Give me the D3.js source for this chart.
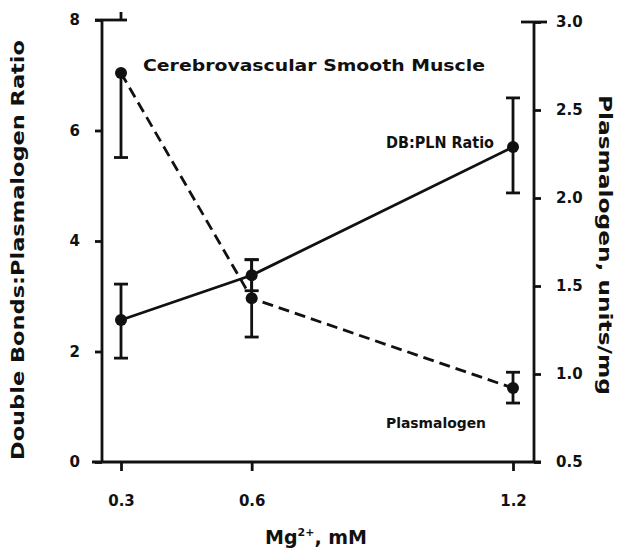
<!DOCTYPE html>
<html>
<head>
<meta charset="utf-8">
<script src="https://cdn.jsdelivr.net/npm/d3@7"></script>
<style>
  body { margin: 0; background: #fff; }
  svg text { font-family: "DejaVu Sans", sans-serif; font-weight: bold; fill: #111; }
</style>
</head>
<body>
<div id="chart"></div>
<script>
// values
const mgLevels = [0.3, 0.6, 1.2];
const xTicks = ['0.3', '0.6', '1.2'];
const leftTicks = [0, 2, 4, 6, 8];
const rightTicks = [0.5, 1.0, 1.5, 2.0, 2.5, 3.0];

// DB:PLN ratio (left axis), solid
const ratioMean = [2.57, 3.38, 5.70];
const ratioLow  = [1.88, 3.10, 4.87];
const ratioHigh = [3.22, 3.66, 6.59];

// plasmalogen units/mg (right axis), dashed
const plasMean = [2.71, 1.43, 0.92];
const plasLow  = [2.23, 1.21, 0.835];
const plasHigh = [2.71, 1.65, 1.01];

const W = 619, H = 558;
const mLeft = 102, mRight = 534, mTop = 20, mBottom = 462;

const svg = d3.select('#chart').append('svg')
  .attr('width', W).attr('height', H);

const x = d3.scaleLinear().domain([0.3, 1.2]).range([121, 513]);
const yL = d3.scaleLinear().domain([0, 8]).range([mBottom, mTop]);
const yR = d3.scaleLinear().domain([0.5, 3.0]).range([mBottom, 22]);

const ink = '#111';

// axes frame
const frame = svg.append('g').attr('stroke', ink).attr('stroke-width', 2.8).attr('fill', 'none');
frame.append('line').attr('x1', 92).attr('x2', 541).attr('y1', mBottom).attr('y2', mBottom);
frame.append('line').attr('x1', mLeft).attr('x2', mLeft).attr('y1', mTop).attr('y2', mBottom);
frame.append('line').attr('x1', mRight).attr('x2', mRight).attr('y1', 22).attr('y2', mBottom);
frame.append('line').attr('x1', 95).attr('x2', 127).attr('y1', mTop).attr('y2', mTop);
frame.append('line').attr('x1', x(0.3)).attr('x2', x(0.3)).attr('y1', 12).attr('y2', mTop);
frame.append('line').attr('x1', 521).attr('x2', 547).attr('y1', 22).attr('y2', 22);

// left axis
const gL = svg.append('g').attr('transform', `translate(${mLeft},0)`)
  .call(d3.axisLeft(yL).tickValues(leftTicks).tickSize(7).tickPadding(15).tickFormat(d3.format('d')));
// right axis
const gR = svg.append('g').attr('transform', `translate(${mRight},0)`)
  .call(d3.axisRight(yR).tickValues(rightTicks).tickSize(7).tickPadding(15).tickFormat(d3.format('.1f')));
// bottom axis
const gB = svg.append('g').attr('transform', `translate(0,${mBottom})`)
  .call(d3.axisBottom(x).tickValues(mgLevels).tickSize(9).tickPadding(24).tickFormat((d, i) => xTicks[i]));

[gL, gR, gB].forEach(g => {
  g.select('.domain').remove();
  g.selectAll('.tick line').attr('stroke', ink).attr('stroke-width', 2.8);
  g.selectAll('.tick text').attr('font-size', 15).attr('fill', ink)
    .style('font-family', '"DejaVu Sans", sans-serif').style('font-weight', 'bold');
});

// series
function drawSeries(mean, low, high, yScale, dashed) {
  const pts = mgLevels.map((m, i) => ({ x: m, y: mean[i], lo: low[i], hi: high[i] }));
  const g = svg.append('g');
  g.append('path').datum(pts)
    .attr('fill', 'none').attr('stroke', ink).attr('stroke-width', 2.8)
    .attr('stroke-dasharray', dashed ? '11,6' : null)
    .attr('d', d3.line().x(d => x(d.x)).y(d => yScale(d.y)));
  const eb = g.selectAll('g.err').data(pts).enter().append('g')
    .attr('stroke', ink).attr('stroke-width', 2.8);
  eb.append('line')
    .attr('x1', d => x(d.x)).attr('x2', d => x(d.x))
    .attr('y1', d => yScale(d.lo)).attr('y2', d => yScale(d.hi));
  eb.filter(d => d.lo < d.y).append('line')
    .attr('x1', d => x(d.x) - 7).attr('x2', d => x(d.x) + 7)
    .attr('y1', d => yScale(d.lo)).attr('y2', d => yScale(d.lo));
  eb.filter(d => d.hi > d.y).append('line')
    .attr('x1', d => x(d.x) - 7).attr('x2', d => x(d.x) + 7)
    .attr('y1', d => yScale(d.hi)).attr('y2', d => yScale(d.hi));
  g.selectAll('circle').data(pts).enter().append('circle')
    .attr('cx', d => x(d.x)).attr('cy', d => yScale(d.y)).attr('r', 6)
    .attr('fill', ink);
}
drawSeries(ratioMean, ratioLow, ratioHigh, yL, false);
drawSeries(plasMean, plasLow, plasHigh, yR, true);

// annotations
function label(txt, x0, y0, len, size) {
  svg.append('text').attr('x', x0).attr('y', y0)
    .attr('font-size', size)
    .attr('textLength', len).attr('lengthAdjust', 'spacingAndGlyphs')
    .text(txt);
}
label('Cerebrovascular Smooth Muscle', 143, 71, 342, 15);
label('DB:PLN Ratio', 386, 148, 108, 15);
label('Plasmalogen', 386, 428, 100, 14);

// axis titles
svg.append('text')
  .attr('transform', 'translate(24,250) rotate(-90)')
  .attr('text-anchor', 'middle').attr('font-size', 18)
  .attr('textLength', 420).attr('lengthAdjust', 'spacingAndGlyphs')
  .text('Double Bonds:Plasmalogen Ratio');

svg.append('text')
  .attr('transform', 'translate(599,245) rotate(90)')
  .attr('text-anchor', 'middle').attr('font-size', 18)
  .attr('textLength', 300).attr('lengthAdjust', 'spacingAndGlyphs')
  .text('Plasmalogen, units/mg');

const xt = svg.append('text')
  .attr('x', 316).attr('y', 544)
  .attr('text-anchor', 'middle').attr('font-size', 19);
xt.append('tspan').text('Mg');
xt.append('tspan').attr('dy', -8).attr('font-size', 11).text('2+');
xt.append('tspan').attr('dy', 8).text(', mM');
</script>
</body>
</html>
